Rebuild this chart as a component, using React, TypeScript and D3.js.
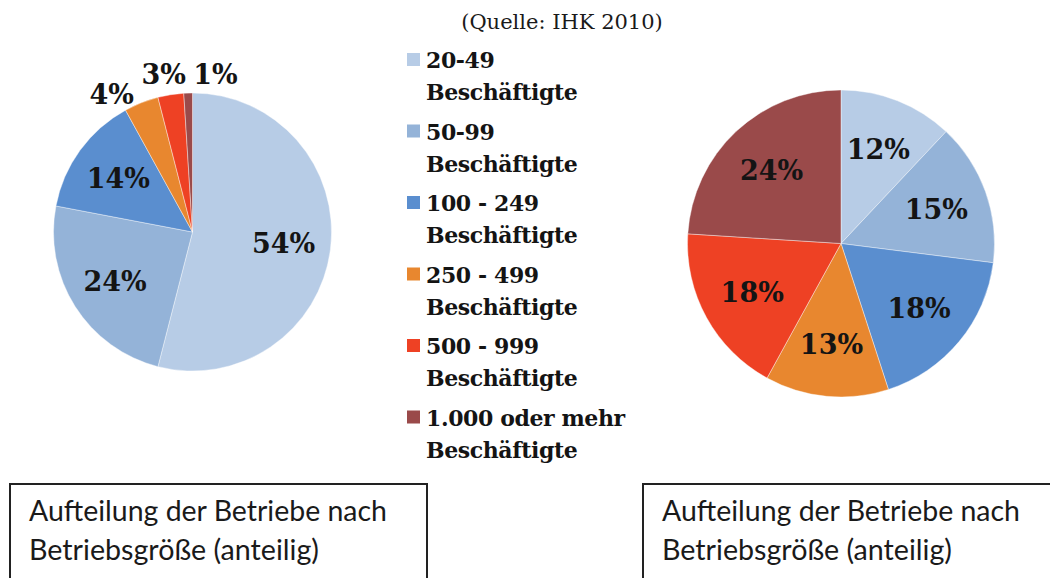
import React from 'react';
import * as d3 from 'd3';

// ---------- data ----------
const categories = ['20-49', '50-99', '100 - 249', '250 - 499', '500 - 999', '1.000 oder mehr'];
const legendSuffix = 'Beschäftigte';
const leftValues = [54, 24, 14, 4, 3, 1];
const rightValues = [12, 15, 18, 13, 18, 24];
const sliceColors = ['#b7cce6', '#94b3d8', '#5a8ecf', '#e8872f', '#ee4124', '#9a4a4a'];
const sourceText = '(Quelle: IHK 2010)';
const boxLines = ['Aufteilung der Betriebe nach', 'Betriebsgröße (anteilig)'];

// ---------- layout ----------
const W = 1050;
const H = 578;
const LABEL_FONT = 27;
const serif = "'DejaVu Serif', serif";

type PieSpec = { cx: number; cy: number; r: number; values: number[] };
const leftPie: PieSpec = { cx: 192.5, cy: 232, r: 139, values: leftValues };
const rightPie: PieSpec = { cx: 841, cy: 243.5, r: 153.5, values: rightValues };

const pieGen = d3.pie<number>().sort(null).value((d) => d);

function labelWidth(text: string) {
  // approximate width of DejaVu Serif Bold glyphs
  let w = 0;
  for (const ch of text) w += ch === '%' ? 1.0 : ch === '1' ? 0.62 : 0.696;
  return w * LABEL_FONT;
}

function PieChart({ spec }: { spec: PieSpec }) {
  const arcs = pieGen(spec.values);
  const total = d3.sum(spec.values);
  const arcGen = d3.arc<d3.PieArcDatum<number>>().innerRadius(0).outerRadius(spec.r);

  const inside = arcs.filter((a) => a.data / total >= 0.1);
  const outside = arcs.filter((a) => a.data / total < 0.1);
  const inR = spec.r * 0.66;
  const outR = spec.r + 21;
  const insideLabels = inside.map((a) => {
    const ang = (a.startAngle + a.endAngle) / 2;
    return { text: `${a.data}%`, x: spec.cx + inR * Math.sin(ang), y: spec.cy - inR * Math.cos(ang) };
  });

  // outside labels with simple collision avoidance along the circle
  const angs = outside.map((a) => (a.startAngle + a.endAngle) / 2);
  const texts = outside.map((a) => `${a.data}%`);
  const widths = texts.map(labelWidth);
  const pos = (i: number) => ({ x: spec.cx + outR * Math.sin(angs[i]), y: spec.cy - outR * Math.cos(angs[i]) });
  for (let it = 0; it < 400; it++) {
    let moved = false;
    for (let i = 0; i < angs.length; i++) {
      for (let j = i + 1; j < angs.length; j++) {
        const p = pos(i);
        const q = pos(j);
        const needX = (widths[i] + widths[j]) / 2 + 6;
        if (Math.abs(p.x - q.x) < needX && Math.abs(p.y - q.y) < LABEL_FONT * 0.8) {
          const lo = angs[i] < angs[j] ? i : j;
          const hi = lo === i ? j : i;
          angs[lo] -= 0.004;
          angs[hi] += 0.004;
          moved = true;
        }
      }
    }
    if (!moved) break;
  }
  const outsideLabels = texts.map((t, i) => ({ text: t, ...pos(i) }));

  return (
    <g>
      {arcs.map((a, i) => (
        <path
          key={i}
          d={arcGen(a) || ''}
          transform={`translate(${spec.cx},${spec.cy})`}
          fill={sliceColors[i]}
          stroke="#ffffff"
          strokeOpacity={0.5}
          strokeWidth={0.8}
        />
      ))}
      {[...insideLabels, ...outsideLabels].map((l, i) => (
        <text
          key={i}
          x={l.x}
          y={l.y + LABEL_FONT * 0.365}
          textAnchor="middle"
          fontFamily={serif}
          fontWeight="bold"
          fontSize={LABEL_FONT}
          fill="#141414"
        >
          {l.text}
        </text>
      ))}
    </g>
  );
}

function Legend() {
  const x0 = 407;
  const firstBase = 68;
  const step = 71.5;
  return (
    <g>
      {categories.map((c, i) => {
        const b = firstBase + i * step;
        return (
          <g key={c}>
            <rect x={x0} y={b - 15} width={13} height={13} fill={sliceColors[i]} />
            <text x={x0 + 19} y={b} fontFamily={serif} fontWeight="bold" fontSize={22} letterSpacing={-0.4} fill="#141414">
              {c}
            </text>
            <text x={x0 + 19} y={b + 32} fontFamily={serif} fontWeight="bold" fontSize={22} letterSpacing={-0.4} fill="#141414">
              {legendSuffix}
            </text>
          </g>
        );
      })}
    </g>
  );
}

function TextBox({ x, width }: { x: number; width: number }) {
  const top = 484;
  return (
    <g>
      <rect x={x} y={top} width={width} height={200} fill="#ffffff" stroke="#222222" strokeWidth={2} />
      <text x={x + 19} y={521} fontFamily="Lato, sans-serif" fontSize={28} fill="#1a1a1a" textLength={358} lengthAdjust="spacingAndGlyphs">
        {boxLines[0]}
      </text>
      <text x={x + 19} y={560} fontFamily="Lato, sans-serif" fontSize={28} fill="#1a1a1a" textLength={290} lengthAdjust="spacingAndGlyphs">
        {boxLines[1]}
      </text>
    </g>
  );
}

export default function App() {
  return (
    <svg
      width={W}
      height={H}
      viewBox={`0 0 ${W} ${H}`}
      style={{ position: 'absolute', left: 0, top: 0, background: '#ffffff' }}
    >
      <rect x={0} y={0} width={W} height={H} fill="#ffffff" />
      <text x={562} y={29} textAnchor="middle" fontFamily={serif} fontSize={21} fill="#1a1a1a">
        {sourceText}
      </text>
      <PieChart spec={leftPie} />
      <PieChart spec={rightPie} />
      <Legend />
      <TextBox x={10} width={417} />
      <TextBox x={643} width={420} />
    </svg>
  );
}
